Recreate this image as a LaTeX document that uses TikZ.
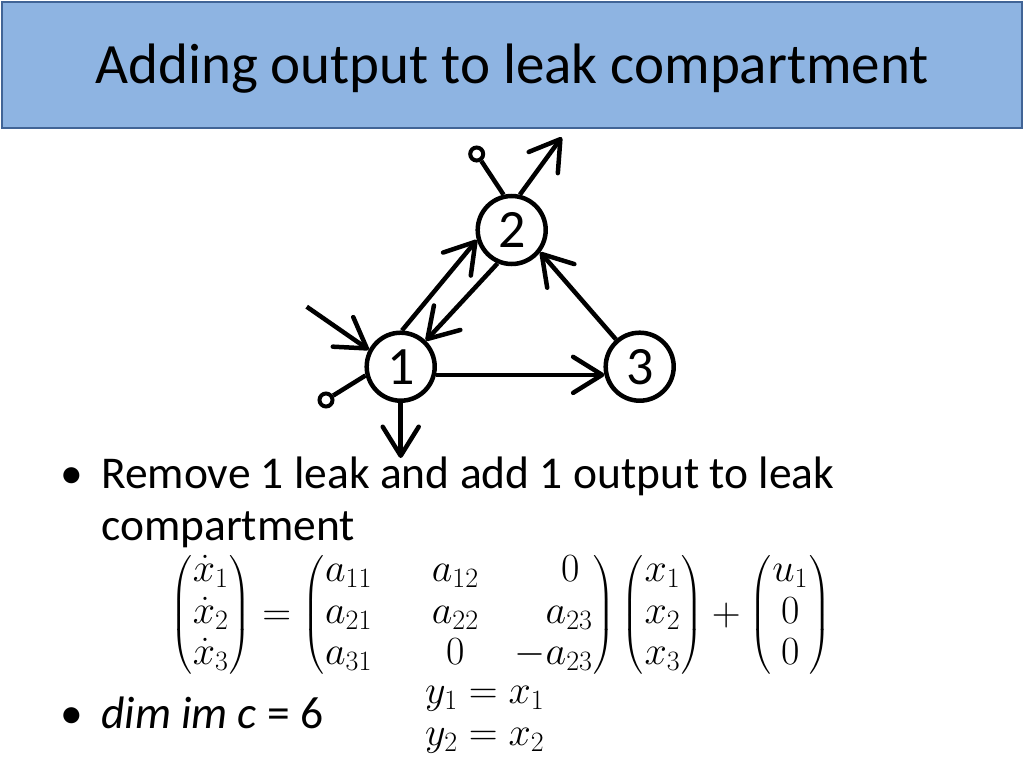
\RequirePackage{fix-cm}
\documentclass[tikz,border=0pt]{standalone}
\usepackage{amsmath}
\usepackage[no-math]{fontspec}
\setmainfont{Carlito}
\usetikzlibrary{arrows.meta}
\definecolor{titlefill}{RGB}{142,180,226}
\definecolor{titleline}{RGB}{65,100,150}
\begin{document}
\begin{tikzpicture}[x=1pt,y=-1pt,
  comp/.style={circle,draw,line width=4.5pt,minimum size=68pt,inner sep=0pt,font=\fontsize{54}{54}\selectfont},
  flow/.style={line width=4.5pt,-{Straight Barb[length=29pt,width=36pt,round]}},
  leakline/.style={line width=4.5pt},
  leakend/.style={circle,draw,line width=4pt,minimum size=13pt,inner sep=0pt,fill=white},
  body/.style={font=\fontsize{45.5}{54}\selectfont,anchor=base west,inner sep=0pt},
  mathtext/.style={font=\fontsize{40}{48}\selectfont,inner sep=0pt}]
\useasboundingbox (0,0) rectangle (1024,768);
\node[draw=titleline,fill=titlefill,line width=2pt,minimum width=1020pt,minimum height=126pt,anchor=north west,inner sep=0pt] (title) at (1,1) {};
\node[font=\fontsize{57}{57}\selectfont,anchor=base,inner sep=0pt] (ttext) at (512,83) {Adding output to leak compartment};
% compartments
\node[comp] (n1) at (400.7,366.7) {1};
\node[comp] (n2) at (511.7,230) {2};
\node[comp] (n3) at (639.7,366.7) {3};
% leak ends and free ends
\node[leakend] (lk1) at (326,400) {};
\node[leakend] (lk2) at (476.7,154) {};
\coordinate (in1) at (306.7,306.7);
\coordinate (out1) at (400.7,458);
\coordinate (out2) at (561.7,137.3);
% connectors
\draw[flow] (n1.88) -- (n2.196);
\draw[flow] (n2.247) -- (n1.46);
\draw[flow] (n3.131) -- (n2.322);
\draw[flow] (n1.-13) -- (n3.193.5);
\draw[flow] (in1) -- (n1.152);
\draw[flow] (n1.south) -- (out1);
\draw[flow] (n2.77) -- (out2);
\draw[leakline] (n1.194.6) -- (lk1);
\draw[leakline] (n2.103) -- (lk2);
% text
\node[body] (bul1) at (60,488) {•};
\node[body] (b1) at (101,488) {Remove 1 leak and add 1 output to leak};
\node[body] (b2) at (101,540) {compartment};
\node[body] (bul2) at (60,728) {•};
\node[body] (b3) at (101,728) {\textit{dim im c} = 6};
\node[mathtext,anchor=west] (eq) at (170,615) {$\renewcommand{\arraystretch}{0.86}
\left(\begin{array}{@{\hspace{1pt}}c@{\hspace{1pt}}}\dot x_1\\ \dot x_2\\ \dot x_3\end{array}\right)=
\left(\begin{array}{@{\hspace{1pt}}l@{\hspace{60pt}}c@{\hspace{36pt}}r@{\hspace{1pt}}}a_{11} & a_{12} & 0\hspace{13pt}\\ a_{21} & a_{22} & a_{23}\\ a_{31} & 0 & -a_{23}\end{array}\right)
\left(\begin{array}{@{\hspace{1pt}}c@{\hspace{1pt}}}x_1\\ x_2\\ x_3\end{array}\right)+
\left(\begin{array}{@{\hspace{1pt}}c@{\hspace{1pt}}}u_1\\ 0\\ 0\end{array}\right)$};
\node[mathtext,anchor=base west] (y1) at (425,703) {$y_1 = x_1$};
\node[mathtext,anchor=base west] (y2) at (425,745) {$y_2 = x_2$};
\end{tikzpicture}
\end{document}
